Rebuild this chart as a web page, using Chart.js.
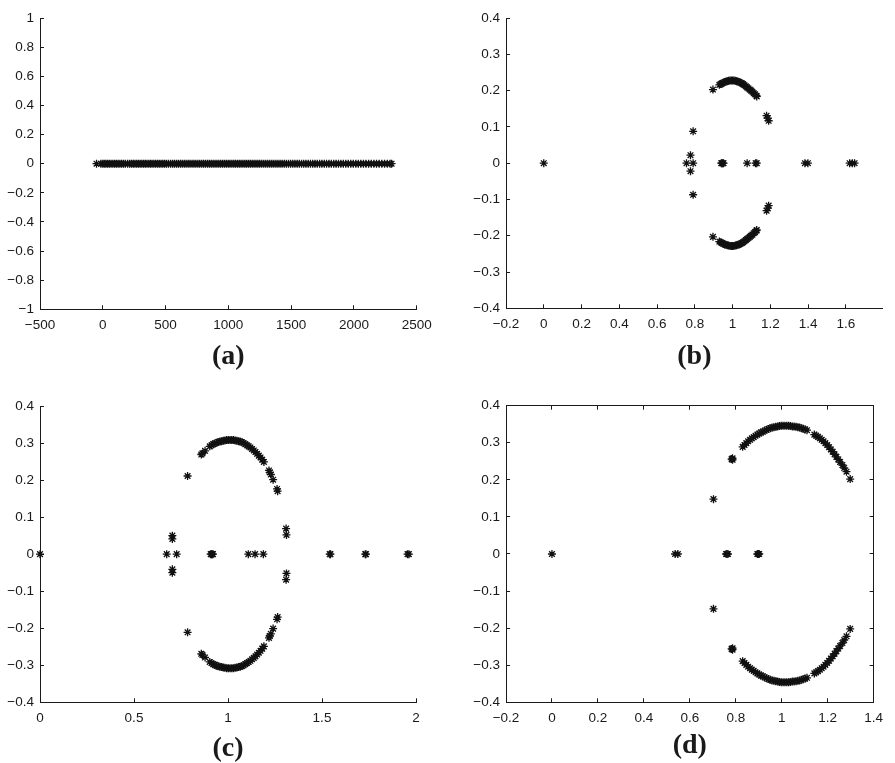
<!DOCTYPE html>
<html><head><meta charset="utf-8">
<script src="https://cdn.jsdelivr.net/npm/chart.js@4.4.1/dist/chart.umd.min.js"></script>
<style>
html,body{margin:0;padding:0;background:#fff;}
body{width:895px;height:763px;position:relative;overflow:hidden;}
.panel{position:absolute;}
canvas{display:block;}
</style></head><body>
<div class="panel" style="left:0px;top:0px;width:447px;height:380px"><canvas id="ca" width="447" height="380"></canvas></div>
<div class="panel" style="left:447px;top:0px;width:448px;height:380px"><canvas id="cb" width="448" height="380"></canvas></div>
<div class="panel" style="left:0px;top:380px;width:447px;height:383px"><canvas id="cc" width="447" height="383"></canvas></div>
<div class="panel" style="left:447px;top:380px;width:448px;height:383px"><canvas id="cd" width="448" height="383"></canvas></div>
<script>
// ---------------- DATA (eigenvalues: [real, imag]) ----------------
// (a) all eigenvalues are real (imaginary part 0)
const realA = [-50, -15, 0, 12, 25, 38, 52, 66, 80, 94, 108, 122, 136, 150, 165, 180, 198, 214, 229, 243, 256, 270, 284, 298, 311, 325, 339, 352, 366, 380, 393, 407, 421, 436, 450, 464, 478, 492, 507, 523, 540, 556, 571, 587, 602, 618, 633, 649, 664, 680, 695, 711, 726, 741, 757, 772, 788, 803, 818, 834, 849, 864, 879, 894, 909, 924, 939, 954, 969, 984, 999, 1013, 1028, 1043, 1057, 1072, 1087, 1101, 1116, 1131, 1145, 1160, 1175, 1190, 1205, 1220, 1235, 1250, 1266, 1282, 1298, 1314, 1330, 1346, 1362, 1379, 1395, 1412, 1428, 1445, 1462, 1479, 1496, 1513, 1530, 1548, 1565, 1583, 1600, 1618, 1636, 1654, 1672, 1690, 1708, 1727, 1745, 1764, 1782, 1801, 1820, 1839, 1858, 1877, 1896, 1916, 1935, 1955, 1975, 1995, 2015, 2035, 2055, 2076, 2096, 2117, 2138, 2159, 2180, 2201, 2222, 2244, 2266, 2288, 2300];

// (b)
const bAxis = [[0,0],[0.756,0],[0.791,0],[0.940,0],[0.944,0],[0.948,0],[0.952,0],[1.077,0],[1.122,0],[1.128,0],[1.383,0],[1.399,0],[1.620,0],[1.634,0],[1.646,0]];
const bNear = [[0.777,0.022],[0.777,-0.022],[0.791,0.088],[0.791,-0.087]];
const bUpper = [[0.896,0.203],[0.930,0.216],[0.937,0.218],[0.944,0.220],[0.951,0.222],[0.958,0.224],[0.965,0.225],[0.972,0.226],[0.979,0.227],[0.986,0.228],[0.993,0.228],[1.000,0.228],[1.007,0.228],[1.014,0.227],[1.021,0.226],[1.028,0.225],[1.035,0.224],[1.042,0.222],[1.049,0.220],[1.056,0.218],[1.063,0.215],[1.070,0.212],[1.077,0.209],[1.084,0.206],[1.091,0.203],[1.098,0.200],[1.105,0.197],[1.112,0.193],[1.119,0.190],[1.126,0.186],[1.128,0.184],[1.180,0.131],[1.186,0.124],[1.191,0.117]];
const bLower = [[0.896,-0.203],[0.930,-0.216],[0.937,-0.218],[0.944,-0.220],[0.951,-0.222],[0.958,-0.224],[0.965,-0.225],[0.972,-0.226],[0.979,-0.227],[0.986,-0.228],[0.993,-0.228],[1.000,-0.228],[1.007,-0.228],[1.014,-0.227],[1.021,-0.226],[1.028,-0.225],[1.035,-0.224],[1.042,-0.222],[1.049,-0.220],[1.056,-0.218],[1.063,-0.215],[1.070,-0.212],[1.077,-0.209],[1.084,-0.206],[1.091,-0.203],[1.098,-0.200],[1.105,-0.197],[1.112,-0.193],[1.119,-0.190],[1.126,-0.186],[1.128,-0.184],[1.180,-0.131],[1.186,-0.124],[1.191,-0.117]];

// (c)
const cAxis = [[0,0],[0.674,0],[0.727,0],[0.908,0],[0.912,0],[0.916,0],[0.920,0],[1.108,0],[1.144,0],[1.188,0],[1.541,0],[1.545,0],[1.730,0],[1.734,0],[1.955,0],[1.962,0]];
const cNear = [[0.704,0.050],[0.704,0.041],[0.704,-0.041],[0.704,-0.050],[1.309,0.069],[1.311,0.052],[1.311,-0.052],[1.309,-0.069]];
const cUpper = [[0.785,0.211],[0.858,0.269],[0.864,0.272],[0.878,0.279],[0.903,0.291],[0.912,0.294],[0.921,0.297],[0.930,0.299],[0.939,0.301],[0.948,0.303],[0.957,0.304],[0.966,0.305],[0.975,0.306],[0.984,0.307],[0.993,0.308],[1.002,0.308],[1.011,0.308],[1.020,0.308],[1.029,0.308],[1.038,0.307],[1.047,0.306],[1.056,0.305],[1.065,0.304],[1.074,0.302],[1.083,0.300],[1.092,0.297],[1.101,0.294],[1.110,0.291],[1.119,0.288],[1.128,0.284],[1.137,0.280],[1.146,0.276],[1.155,0.271],[1.164,0.266],[1.173,0.261],[1.182,0.255],[1.191,0.249],[1.218,0.226],[1.222,0.221],[1.228,0.215],[1.240,0.201],[1.261,0.176],[1.264,0.170]];
const cLower = [[0.785,-0.211],[0.858,-0.269],[0.864,-0.272],[0.878,-0.279],[0.903,-0.291],[0.912,-0.294],[0.921,-0.297],[0.930,-0.299],[0.939,-0.301],[0.948,-0.303],[0.957,-0.304],[0.966,-0.305],[0.975,-0.306],[0.984,-0.307],[0.993,-0.308],[1.002,-0.308],[1.011,-0.308],[1.020,-0.308],[1.029,-0.308],[1.038,-0.307],[1.047,-0.306],[1.056,-0.305],[1.065,-0.304],[1.074,-0.302],[1.083,-0.300],[1.092,-0.297],[1.101,-0.294],[1.110,-0.291],[1.119,-0.288],[1.128,-0.284],[1.137,-0.280],[1.146,-0.276],[1.155,-0.271],[1.164,-0.266],[1.173,-0.261],[1.182,-0.255],[1.191,-0.249],[1.218,-0.226],[1.222,-0.221],[1.228,-0.215],[1.240,-0.201],[1.261,-0.176],[1.264,-0.170]];

// (d)
const dAxis = [[0,0],[0.536,0],[0.548,0],[0.758,0],[0.762,0],[0.766,0],[0.894,0],[0.898,0],[0.902,0]];
const dNear = [[0.703,0.148],[0.703,-0.148],[0.782,0.256],[0.786,0.258],[0.786,0.254],[0.782,-0.256],[0.786,-0.258],[0.786,-0.254]];
const dUpper = [[0.830,0.289],[0.838,0.294],[0.846,0.299],[0.854,0.304],[0.862,0.308],[0.870,0.312],[0.878,0.315],[0.886,0.319],[0.894,0.322],[0.902,0.325],[0.910,0.328],[0.918,0.330],[0.926,0.333],[0.934,0.335],[0.942,0.337],[0.950,0.339],[0.958,0.341],[0.966,0.342],[0.974,0.343],[0.982,0.344],[0.990,0.345],[0.998,0.346],[1.006,0.346],[1.014,0.346],[1.022,0.346],[1.030,0.346],[1.038,0.345],[1.046,0.344],[1.054,0.344],[1.062,0.343],[1.070,0.342],[1.078,0.341],[1.086,0.339],[1.094,0.338],[1.102,0.336],[1.110,0.334],[1.142,0.322],[1.150,0.319],[1.158,0.316],[1.166,0.312],[1.174,0.308],[1.182,0.304],[1.190,0.299],[1.198,0.294],[1.206,0.288],[1.214,0.282],[1.222,0.276],[1.230,0.269],[1.238,0.262],[1.246,0.255],[1.254,0.248],[1.264,0.240],[1.272,0.232],[1.282,0.222],[1.298,0.202]];
const dLower = [[0.830,-0.289],[0.838,-0.294],[0.846,-0.299],[0.854,-0.304],[0.862,-0.308],[0.870,-0.312],[0.878,-0.315],[0.886,-0.319],[0.894,-0.322],[0.902,-0.325],[0.910,-0.328],[0.918,-0.330],[0.926,-0.333],[0.934,-0.335],[0.942,-0.337],[0.950,-0.339],[0.958,-0.341],[0.966,-0.342],[0.974,-0.343],[0.982,-0.344],[0.990,-0.345],[0.998,-0.346],[1.006,-0.346],[1.014,-0.346],[1.022,-0.346],[1.030,-0.346],[1.038,-0.345],[1.046,-0.344],[1.054,-0.344],[1.062,-0.343],[1.070,-0.342],[1.078,-0.341],[1.086,-0.339],[1.094,-0.338],[1.102,-0.336],[1.110,-0.334],[1.142,-0.322],[1.150,-0.319],[1.158,-0.316],[1.166,-0.312],[1.174,-0.308],[1.182,-0.304],[1.190,-0.299],[1.198,-0.294],[1.206,-0.288],[1.214,-0.282],[1.222,-0.276],[1.230,-0.269],[1.238,-0.262],[1.246,-0.255],[1.254,-0.248],[1.264,-0.240],[1.272,-0.232],[1.282,-0.222],[1.298,-0.202]];

// axis ranges / tick steps
const axA = {x:{min:-500,max:2500,step:500}, y:{min:-1,max:1,step:0.2}};
const axB = {x:{min:-0.2,max:1.795,step:0.2}, y:{min:-0.4,max:0.4,step:0.1}};
const axC = {x:{min:0,max:2,step:0.5}, y:{min:-0.4,max:0.4,step:0.1}};
const axD = {x:{min:-0.2,max:1.4,step:0.2}, y:{min:-0.4,max:0.4,step:0.1}};
const panelLabels = ['(a)','(b)','(c)','(d)'];

// ---------------- RENDERING ----------------
const INK = '#1a1a1a';
const TITLE_SIZE = 28;
function fmt(v){ const s = String(Math.round(v*1e6)/1e6); return s.replace('-', '\u2212'); }
function toPts(arr){ return arr.map(p => ({x:p[0], y:p[1]})); }

function makePanel(id, box, area, titleY, label, ax, pts, boxed){
  const yW = area.l - box.l;
  const xH = box.t + box.h - area.b;
  const titlePad = (box.t + box.h - titleY) - TITLE_SIZE*1.2/2;
  const tickFont = {family:'"Liberation Sans", Arial, Helvetica, sans-serif', size:13.5};
  const grid = {display:true, drawOnChartArea:false, drawTicks:true, tickLength:-4, color:INK, lineWidth:1};
  const border = {display:true, color:INK, width:1};
  const scales = {
    x: {type:'linear', position:'bottom', min:ax.x.min, max:ax.x.max,
        ticks:{color:INK, font:tickFont, stepSize:ax.x.step, includeBounds:false, padding:12, maxRotation:0, autoSkip:false, callback:fmt},
        grid:grid, border:border,
        title:{display:true, text:label, color:INK, font:{family:'"Liberation Serif", "Times New Roman", serif', size:TITLE_SIZE, weight:'bold'}, padding:{top:0, bottom:titlePad}},
        afterFit(s){ s.height = xH; }},
    y: {type:'linear', position:'left', min:ax.y.min, max:ax.y.max,
        ticks:{color:INK, font:tickFont, stepSize:ax.y.step, includeBounds:false, padding:10, autoSkip:false, callback:fmt},
        grid:grid, border:border,
        afterFit(s){ s.width = yW; }}
  };
  if (boxed){
    scales.x2 = {type:'linear', axis:'x', position:'top', min:ax.x.min, max:ax.x.max,
        ticks:{display:false, stepSize:ax.x.step, includeBounds:false, autoSkip:false},
        grid:grid, border:border, afterFit(s){ s.height = 0; }};
    scales.y2 = {type:'linear', axis:'y', position:'right', min:ax.y.min, max:ax.y.max,
        ticks:{display:false, stepSize:ax.y.step, includeBounds:false, autoSkip:false},
        grid:grid, border:border, afterFit(s){ s.width = 0; }};
  }
  new Chart(document.getElementById(id), {
    type:'scatter',
    data:{datasets:[{data:pts, xAxisID:'x', yAxisID:'y', showLine:false, clip:false,
      pointStyle:'star', pointRadius:4, pointHoverRadius:4, pointBorderWidth:1.3,
      borderColor:'#111', backgroundColor:'#111'}]},
    options:{
      responsive:false, animation:false, devicePixelRatio:1, events:[],
      layout:{padding:{left:0, top:area.t - box.t, right:(box.l + box.w) - area.r, bottom:0}},
      plugins:{legend:{display:false}, tooltip:{enabled:false}, title:{display:false}},
      scales:scales
    }
  });
}

makePanel('ca', {l:0,t:0,w:447,h:380}, {l:40,t:12.7,r:416.7,b:309.3}, 357, panelLabels[0], axA,
  realA.map(v => ({x:v, y:0})), false);
makePanel('cb', {l:447,t:0,w:448,h:380}, {l:506,t:12.7,r:882.7,b:308.3}, 357, panelLabels[1], axB,
  toPts([...bAxis, ...bNear, ...bUpper, ...bLower]), false);
makePanel('cc', {l:0,t:380,w:447,h:383}, {l:40,t:406,r:416,b:702.3}, 749, panelLabels[2], axC,
  toPts([...cAxis, ...cNear, ...cUpper, ...cLower]), false);
makePanel('cd', {l:447,t:380,w:448,h:383}, {l:506,t:405.7,r:882.5,b:702.3}, 746, panelLabels[3], axD,
  toPts([...dAxis, ...dNear, ...dUpper, ...dLower]), true);
</script>
</body></html>
